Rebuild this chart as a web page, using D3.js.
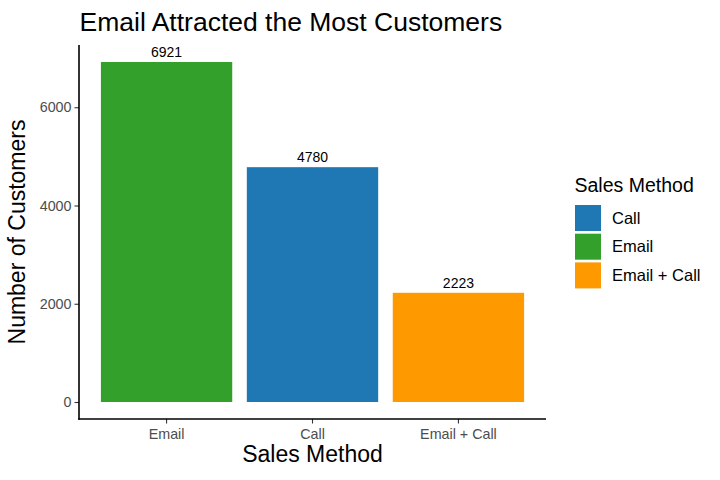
<!DOCTYPE html>
<html><head><meta charset="utf-8">
<script src="https://cdn.jsdelivr.net/npm/d3@7"></script>
<style>body{margin:0;background:#fff;font-family:"Liberation Sans",Arial,Helvetica,sans-serif;}</style>
</head><body>
<svg id="c" width="720" height="480"></svg>
<script>
const categories = ["Email", "Call", "Email + Call"];
const customers = [6921, 4780, 2223];
const yTicks = [0, 2000, 4000, 6000];
const legendOrder = ["Call", "Email", "Email + Call"];
const colors = {"Call": "#1f78b4", "Email": "#33a02c", "Email + Call": "#ff9900"};

const svg = d3.select("#c");
const pL = 79, pR = 546, pT = 45, pB = 419;
const maxV = d3.max(customers);
const y = d3.scaleLinear().domain([-0.05*maxV, 1.05*maxV]).range([pB, pT]);
const x = d3.scaleBand().domain(categories).range([pL, pR]).paddingInner(0.1).paddingOuter(0.15);

// bars
svg.selectAll("rect.bar").data(categories).enter().append("rect")
  .attr("x", d => x(d)).attr("width", x.bandwidth())
  .attr("y", (d,i) => y(customers[i])).attr("height", (d,i) => y(0) - y(customers[i]))
  .attr("fill", d => colors[d]);

// value labels
svg.selectAll("text.val").data(categories).enter().append("text")
  .attr("x", d => x(d) + x.bandwidth()/2).attr("y", (d,i) => y(customers[i]) - 5)
  .attr("text-anchor", "middle").attr("font-size", 14).attr("fill", "#000")
  .text((d,i) => customers[i]);

// axes
const yAxis = d3.axisLeft(y).tickValues(yTicks).tickSize(4.5).tickPadding(3).tickFormat(d3.format("d"));
const gy = svg.append("g").attr("transform", `translate(${pL},0)`).call(yAxis);
gy.select(".domain").remove();
gy.append("line").attr("x1",0).attr("x2",0).attr("y1",pT).attr("y2",pB+0.7).attr("stroke","#000").attr("stroke-width",1.6);
gy.selectAll(".tick line").attr("stroke","#333").attr("stroke-width",1.1);
gy.selectAll(".tick text").attr("font-size", 14.3).attr("fill", "#4d4d4d").attr("font-family","inherit");

const xAxis = d3.axisBottom(x).tickSize(4.5).tickPadding(5.5);
const gx = svg.append("g").attr("transform", `translate(0,${pB})`).call(xAxis);
gx.select(".domain").remove();
gx.append("line").attr("x1",pL-0.8).attr("x2",pR).attr("y1",0).attr("y2",0).attr("stroke","#000").attr("stroke-width",1.6);
gx.selectAll(".tick line").attr("stroke","#333").attr("stroke-width",1.1);
gx.selectAll(".tick text").attr("font-size", 14.3).attr("fill", "#4d4d4d").attr("font-family","inherit");

// titles
svg.append("text").attr("x", 79.5).attr("y", 31).attr("font-size", 26.5).attr("fill","#000")
  .text("Email Attracted the Most Customers");
svg.append("text").attr("x", (pL+pR)/2).attr("y", 462).attr("text-anchor","middle")
  .attr("font-size", 23).attr("fill","#000").text("Sales Method");
svg.append("text").attr("transform", `translate(25,${(pT+pB)/2}) rotate(-90)`)
  .attr("text-anchor","middle").attr("font-size", 23).attr("fill","#000").text("Number of Customers");

// legend
const lg = svg.append("g");
lg.append("text").attr("x", 574.5).attr("y", 192).attr("font-size", 19.5).attr("fill","#000").text("Sales Method");
const keys = lg.selectAll("g.k").data(legendOrder).enter().append("g")
  .attr("transform", (d,i) => `translate(575,${205 + i*28.7})`);
keys.append("rect").attr("width", 26).attr("height", 26).attr("fill", d => colors[d]);
keys.append("text").attr("x", 37).attr("y", 18.5).attr("font-size", 16.5).attr("fill","#000").text(d => d);
</script>
</body></html>
